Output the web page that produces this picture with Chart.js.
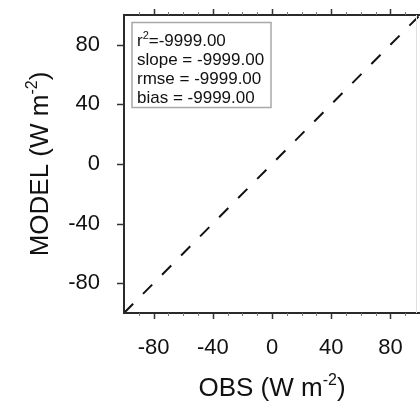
<!DOCTYPE html>
<html><head><meta charset="utf-8">
<script src="https://cdn.jsdelivr.net/npm/chart.js@4"></script>
<style>html,body{margin:0;padding:0;background:#fff}#wrap{width:420px;height:401px}</style>
</head><body><div id="wrap"><canvas id="c" width="420" height="401"></canvas></div>
<script>
// ---- data ----
const axisMin = -100, axisMax = 100;
const tickValues = [-80, -40, 0, 40, 80];
const minorStep = 10;
const lineX = [-100, 100];
const lineY = [-100, 100];
const statNames = ['r', 'slope', 'rmse', 'bias'];
const statValues = [-9999.00, -9999.00, -9999.00, -9999.00];
const xTitle = ['OBS (W m', '-2', ')'];
const yTitle = ['MODEL (W m', '-2', ')'];

const FONT = '"Liberation Sans", Arial, Helvetica, sans-serif';

function drawSupText(ctx, parts, big, small, rise) {
  ctx.font = big + 'px ' + FONT; const w1 = ctx.measureText(parts[0]).width; const w3 = ctx.measureText(parts[2]).width;
  ctx.font = small + 'px ' + FONT; const w2 = ctx.measureText(parts[1]).width;
  let x = -(w1 + w2 + w3) / 2;
  ctx.textAlign = 'left'; ctx.textBaseline = 'alphabetic';
  ctx.font = big + 'px ' + FONT; ctx.fillText(parts[0], x, 0); x += w1;
  ctx.font = small + 'px ' + FONT; ctx.fillText(parts[1], x, -rise); x += w2;
  ctx.font = big + 'px ' + FONT; ctx.fillText(parts[2], x, 0);
}

const framePlugin = {
  id: 'frame',
  afterDraw(chart) {
    const { ctx, chartArea: a, scales: { x, y } } = chart;
    ctx.save();
    // stats box
    const bx = a.left + 8, by = a.top + 7.5, bw = 139, bh = 85;
    ctx.fillStyle = '#fff'; ctx.fillRect(bx, by, bw, bh);
    ctx.strokeStyle = '#a8a8a8'; ctx.lineWidth = 1.5; ctx.strokeRect(bx, by, bw, bh);
    ctx.fillStyle = '#111'; ctx.textAlign = 'left'; ctx.textBaseline = 'alphabetic';
    statNames.forEach((n, i) => {
      const tx = bx + 5, ty = by + 23 + i * 19;
      const val = statValues[i].toFixed(2);
      ctx.font = '17px ' + FONT;
      if (i === 0) {
        ctx.fillText(n, tx, ty);
        let w = ctx.measureText(n).width;
        ctx.font = '11px ' + FONT; ctx.fillText('2', tx + w, ty - 7);
        w += ctx.measureText('2').width;
        ctx.font = '17px ' + FONT; ctx.fillText('=' + val, tx + w, ty);
      } else {
        ctx.fillText(n + ' = ' + val, tx, ty);
      }
    });
    // frame
    ctx.strokeStyle = '#2a2a2a'; ctx.lineWidth = 2;
    ctx.beginPath();
    ctx.moveTo(a.right, a.top); ctx.lineTo(a.left, a.top); ctx.lineTo(a.left, a.bottom); ctx.lineTo(a.right, a.bottom);
    ctx.stroke();
    ctx.strokeStyle = '#e0e0e0'; ctx.lineWidth = 1;
    ctx.beginPath(); ctx.moveTo(a.right - 3.5, a.top); ctx.lineTo(a.right - 3.5, a.bottom); ctx.stroke();
    // major ticks
    ctx.strokeStyle = '#333'; ctx.lineWidth = 1.5;
    ctx.beginPath();
    tickValues.forEach(v => {
      const px = Math.round(x.getPixelForValue(v)) + 0.5;
      ctx.moveTo(px, a.top); ctx.lineTo(px, a.top - 6);
      ctx.moveTo(px, a.bottom); ctx.lineTo(px, a.bottom + 6);
      const py = Math.round(y.getPixelForValue(v)) + 0.5;
      ctx.moveTo(a.left, py); ctx.lineTo(a.left - 7, py);
    });
    ctx.stroke();
    // minor ticks
    ctx.strokeStyle = '#777'; ctx.lineWidth = 1;
    ctx.beginPath();
    for (let v = axisMin + minorStep; v < axisMax; v += minorStep) {
      if (tickValues.includes(v)) continue;
      const px = Math.round(x.getPixelForValue(v)) + 0.5;
      ctx.moveTo(px, a.top); ctx.lineTo(px, a.top - 3);
      ctx.moveTo(px, a.bottom); ctx.lineTo(px, a.bottom + 3);
    }
    ctx.stroke();
    // axis titles
    ctx.fillStyle = '#111';
    ctx.save(); ctx.translate((a.left + a.right) / 2, a.bottom + 83);
    drawSupText(ctx, xTitle, 26, 16, 11); ctx.restore();
    ctx.save(); ctx.translate(a.left - 76, (a.top + a.bottom) / 2); ctx.rotate(-Math.PI / 2);
    drawSupText(ctx, yTitle, 26, 16, 11); ctx.restore();
    ctx.restore();
  }
};

const tickFont = { family: FONT, size: 22 };
const setTicks = s => { s.ticks = tickValues.map(v => ({ value: v })); };
const noPad = s => { s.paddingTop = 0; s.paddingBottom = 0; s.paddingLeft = 0; s.paddingRight = 0; };

new Chart(document.getElementById('c'), {
  type: 'scatter',
  data: {
    datasets: [{
      data: lineX.map((v, i) => ({ x: v, y: lineY[i] })),
      showLine: true, borderColor: '#111', borderWidth: 2, borderDash: [13, 14],
      pointRadius: 0, fill: false
    }]
  },
  options: {
    responsive: false, animation: false, devicePixelRatio: 1,
    layout: { padding: { top: 15, right: 0, left: 0, bottom: 0 } },
    plugins: { legend: { display: false }, tooltip: { enabled: false } },
    scales: {
      x: {
        type: 'linear', min: axisMin, max: axisMax,
        afterBuildTicks: setTicks,
        afterFit: s => { s.height = 88; noPad(s); },
        grid: { display: true, drawOnChartArea: false, drawTicks: false, color: 'rgba(0,0,0,0)' },
        border: { display: false },
        ticks: { font: tickFont, color: '#111', padding: 22, autoSkip: false, maxRotation: 0 }
      },
      y: {
        type: 'linear', min: axisMin, max: axisMax,
        afterBuildTicks: setTicks,
        afterFit: s => { s.width = 124; noPad(s); },
        grid: { display: true, drawOnChartArea: false, drawTicks: false, color: 'rgba(0,0,0,0)' },
        border: { display: false },
        ticks: { font: tickFont, color: '#111', padding: 24, autoSkip: false }
      }
    }
  },
  plugins: [framePlugin]
});
</script></body></html>
